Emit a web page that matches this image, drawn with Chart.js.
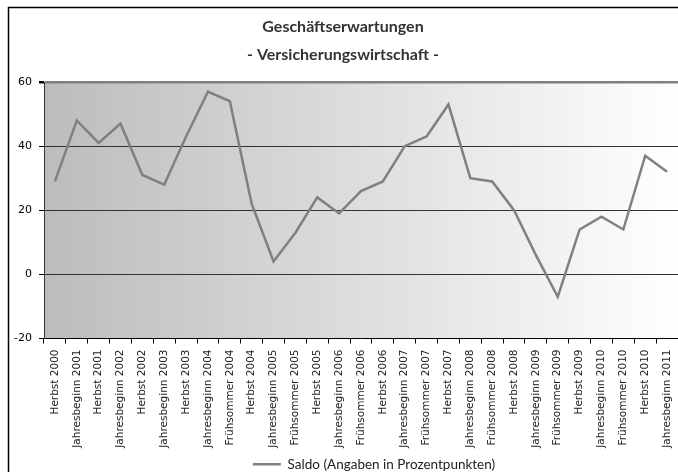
<!DOCTYPE html>
<html>
<head>
<meta charset="utf-8">
<script src="https://cdn.jsdelivr.net/npm/chart.js@4"></script>
<style>
    html, body { margin: 0; padding: 0; background: #fff; overflow: hidden; }
    #wrap { width: 678px; height: 472px; }
</style>
</head>
<body>
<div id="wrap"><canvas id="chart" width="678" height="472"></canvas></div>
<script>
// Survey rounds
const periods = [
    'Herbst 2000', 'Jahresbeginn 2001', 'Herbst 2001', 'Jahresbeginn 2002', 'Herbst 2002',
    'Jahresbeginn 2003', 'Herbst 2003', 'Jahresbeginn 2004', 'Frühsommer 2004', 'Herbst 2004',
    'Jahresbeginn 2005', 'Frühsommer 2005', 'Herbst 2005', 'Jahresbeginn 2006', 'Frühsommer 2006',
    'Herbst 2006', 'Jahresbeginn 2007', 'Frühsommer 2007', 'Herbst 2007', 'Jahresbeginn 2008',
    'Frühsommer 2008', 'Herbst 2008', 'Jahresbeginn 2009', 'Frühsommer 2009', 'Herbst 2009',
    'Jahresbeginn 2010', 'Frühsommer 2010', 'Herbst 2010', 'Jahresbeginn 2011'
];

// Saldo in percentage points
const saldo = [
    29, 48, 41, 47, 31,
    28, 43, 57, 54, 22,
    4, 13, 24, 19, 26,
    29, 40, 43, 53, 30,
    29, 20, 6, -7, 14,
    18, 14, 37, 32
];

const yMin = -20;
const yMax = 60;
const yStep = 20;

const titleLines = ['Geschäftserwartungen', '- Versicherungswirtschaft -'];
const seriesLabel = 'Saldo (Angaben in Prozentpunkten)';

// Plot area gradient, dark grey on the left fading to white
const plotBackground = {
    id: 'plotBackground',
    beforeDraw: (chart) => {
        const { ctx, chartArea: a } = chart;
        const g = ctx.createLinearGradient(a.left, 0, a.right, 0);
        g.addColorStop(0, '#bcbcbc');
        g.addColorStop(1, '#ffffff');
        ctx.save();
        ctx.fillStyle = g;
        ctx.fillRect(a.left, a.top, a.right - a.left, a.bottom - a.top);
        ctx.restore();
    }
};

// Outer frame (only left and top edges are visible in the picture)
const outerFrame = {
    id: 'outerFrame',
    afterDraw: (chart) => {
        const ctx = chart.ctx;
        ctx.save();
        ctx.strokeStyle = '#000';
        ctx.lineWidth = 1.5;
        ctx.beginPath();
        ctx.moveTo(8.5, chart.height);
        ctx.lineTo(8.5, 7.5);
        ctx.lineTo(chart.width, 7.5);
        ctx.stroke();
        ctx.restore();
    }
};

// The legend in the original sits a little right of centre
const legendShift = {
    id: 'legendShift',
    afterLayout: (chart) => {
        chart.legend.left += 31;
        chart.legend.right += 31;
    }
};

new Chart(document.getElementById('chart'), {
    type: 'line',
    data: {
        labels: periods,
        datasets: [{
            label: seriesLabel,
            data: saldo,
            borderColor: '#808080',
            backgroundColor: '#808080',
            borderWidth: 2.5,
            pointRadius: 0,
            tension: 0
        }]
    },
    options: {
        responsive: false,
        animation: false,
        layout: {
            padding: { left: 8, right: 0, top: 0, bottom: -9 }
        },
        plugins: {
            title: {
                display: true,
                text: titleLines,
                color: '#333',
                font: { family: 'Lato', size: 16, weight: 'bold', lineHeight: 1.75 },
                padding: { top: 13, bottom: 13 }
            },
            legend: {
                position: 'bottom',
                labels: {
                    color: '#222',
                    font: { family: 'Lato', size: 13.5 },
                    usePointStyle: true,
                    pointStyle: 'line',
                    pointStyleWidth: 28,
                    padding: 4
                }
            },
            tooltip: { enabled: false }
        },
        scales: {
            x: {
                offset: true,
                afterFit: (scale) => {
                    scale.height = 115;
                    scale.paddingLeft = 0;
                    scale.paddingRight = 0;
                },
                grid: {
                    offset: true,
                    drawOnChartArea: false,
                    drawTicks: true,
                    tickLength: 5,
                    tickColor: '#000'
                },
                border: { display: true, color: '#000', width: 1 },
                ticks: {
                    autoSkip: false,
                    minRotation: 90,
                    maxRotation: 90,
                    padding: 6,
                    color: '#222',
                    font: { family: 'DejaVu Sans', size: 10.5 }
                }
            },
            y: {
                min: yMin,
                max: yMax,
                afterFit: (scale) => { scale.width = 36; },
                grid: {
                    color: (c) => c.tick.value === yMax ? '#808080' : (c.tick.value === yMin ? 'rgba(0,0,0,0)' : '#333'),
                    lineWidth: (c) => c.tick.value === yMax ? 2.5 : 1,
                    tickColor: '#000',
                    tickLength: 5
                },
                border: { display: true, color: '#333', width: 1 },
                ticks: {
                    stepSize: yStep,
                    padding: 7,
                    color: '#000',
                    font: { family: 'DejaVu Sans', size: 11 }
                }
            }
        }
    },
    plugins: [plotBackground, outerFrame, legendShift]
});
</script>
</body>
</html>
